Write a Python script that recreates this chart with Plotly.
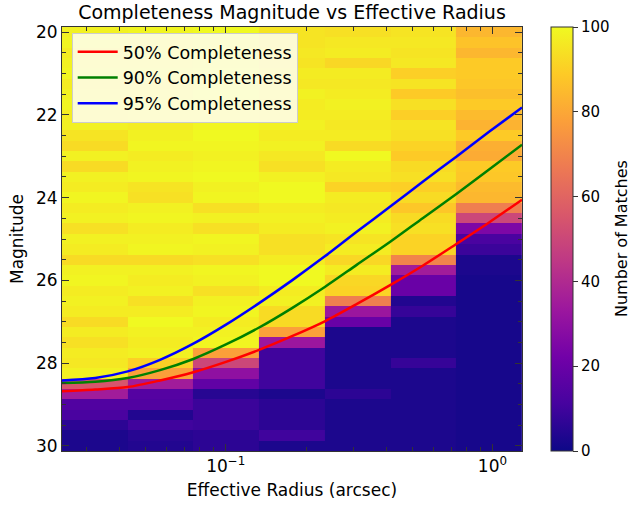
import plotly.graph_objects as go

# ---------------- data ----------------
# bin edges of effective radius (arcsec), 7 bins
radius_edges = [0.0243, 0.0429, 0.0756, 0.1334, 0.2352, 0.4150, 0.7320, 1.2910]

# magnitude bin centres (rows)
magnitudes = [20.0, 20.25, 20.5, 20.75, 21.0, 21.25, 21.5, 21.75, 22.0, 22.25,
              22.5, 22.75, 23.0, 23.25, 23.5, 23.75, 24.0, 24.25, 24.5, 24.75,
              25.0, 25.25, 25.5, 25.75, 26.0, 26.25, 26.5, 26.75, 27.0, 27.25,
              27.5, 27.75, 28.0, 28.25, 28.5, 28.75, 29.0, 29.25, 29.5, 29.75,
              30.0]

# number of matches per radius bin (one list per column, top to bottom)
col_0 = [98, 99, 97, 98, 99, 97, 98, 99, 97, 98,
         95, 93, 98, 93, 98, 97, 99, 97, 98, 94,
         98, 97, 93, 98, 99, 97, 98, 97, 93, 97,
         94, 97, 96, 98, 55, 35, 14, 12, 6, 3,
         3]
col_1 = [99, 98, 99, 98, 99, 97, 98, 99, 98, 97,
         98, 99, 97, 98, 99, 95, 94, 98, 99, 97,
         98, 99, 93, 98, 97, 98, 94, 97, 100, 98,
         97, 98, 90, 78, 35, 15, 14, 4, 10, 5,
         4]
col_2 = [100, 99, 100, 99, 100, 99, 100, 99, 98, 99,
         100, 99, 98, 99, 100, 98, 99, 94, 98, 94,
         99, 98, 94, 99, 98, 94, 98, 99, 97, 98,
         99, 78, 50, 30, 18, 5, 9, 9, 9, 6,
         6]
col_3 = [95, 95, 96, 95, 97, 96, 98, 97, 97, 98,
         97, 98, 96, 94, 98, 100, 100, 97, 98, 97,
         94, 94, 97, 100, 100, 97, 98, 93, 93, 78,
         33, 10, 10, 10, 10, 3, 6, 6, 6, 10,
         3]
col_4 = [94, 96, 97, 92, 97, 96, 97, 98, 97, 96,
         97, 93, 100, 97, 96, 91, 97, 96, 97, 98,
         95, 97, 92, 97, 92, 91, 68, 33, 20, 3,
         3, 3, 3, 3, 3, 6, 3, 3, 3, 3,
         3]
col_5 = [95, 96, 95, 96, 90, 95, 89, 94, 90, 95,
         94, 91, 89, 93, 94, 90, 93, 88, 93, 94,
         91, 91, 70, 35, 20, 20, 4, 8, 3, 3,
         3, 3, 8, 3, 3, 3, 3, 3, 3, 3,
         3]
col_6 = [84, 87, 84, 89, 89, 88, 86, 89, 85, 83,
         89, 82, 81, 89, 88, 85, 84, 68, 50, 25,
         12, 9, 3, 3, 2, 2, 2, 2, 2, 2,
         2, 2, 2, 2, 2, 2, 2, 2, 2, 2,
         2]

# completeness curves
curve_radius = [0.0243, 0.0324, 0.0429, 0.0567, 0.0756, 0.1002, 0.1334, 0.1772,
                0.2352, 0.3106, 0.4150, 0.5493, 0.7320, 0.9712, 1.2910]
mag_50 = [28.68, 28.64, 28.58, 28.42, 28.22, 27.97, 27.68, 27.35,
          26.99, 26.57, 26.11, 25.64, 25.12, 24.60, 24.05]
mag_90 = [28.48, 28.45, 28.36, 28.17, 27.90, 27.55, 27.14, 26.67,
          26.16, 25.62, 25.06, 24.49, 23.91, 23.32, 22.72]
mag_95 = [28.42, 28.36, 28.20, 27.92, 27.53, 27.07, 26.55, 26.00,
          25.42, 24.82, 24.21, 23.61, 23.01, 22.41, 21.82]

# ---------------- figure ----------------
columns = [col_0, col_1, col_2, col_3, col_4, col_5, col_6]
z = [[col[i] for col in columns] for i in range(len(magnitudes))]

FONT = "DejaVu Sans"
PLOT_W = 460

fig = go.Figure()
fig.add_trace(go.Heatmap(
    x=radius_edges, y=magnitudes, z=z,
    colorscale="Plasma", zmin=0, zmax=100,
    showscale=True, showlegend=False, hoverinfo="skip",
    colorbar=dict(
        x=(550.7 - 62) / PLOT_W, xanchor="left", xpad=0,
        y=0, yanchor="bottom", len=1, ypad=0,
        thickness=21.5, outlinewidth=1, outlinecolor="#333333",
        tickvals=[0, 20, 40, 60, 80, 100],
        ticks="outside", ticklen=5, tickwidth=1, tickcolor="#333333",
        tickfont=dict(family=FONT, size=15, color="black"),
    ),
))

for name, ys, color in [("50% Completeness", mag_50, "red"),
                        ("90% Completeness", mag_90, "green"),
                        ("95% Completeness", mag_95, "blue")]:
    fig.add_trace(go.Scatter(
        x=curve_radius, y=ys, mode="lines", name=name,
        line=dict(color=color, width=2.5, shape="spline", smoothing=0.8),
        hoverinfo="skip",
    ))

axis_common = dict(
    showline=True, linecolor="#333333", linewidth=1, mirror="allticks",
    ticks="inside", ticklen=7, tickwidth=1, tickcolor="#333333",
    showgrid=False, zeroline=False,
    tickfont=dict(family=FONT, size=17, color="black"),
)

fig.update_layout(
    width=633, height=508,
    margin=dict(l=62, r=111, t=27, b=52),
    paper_bgcolor="white", plot_bgcolor="white",
    font=dict(family=FONT, color="black"),
    title=dict(text="Completeness Magnitude vs Effective Radius",
               x=292 / 633, xanchor="center",
               y=1 - 12 / 508, yanchor="middle",
               font=dict(family=FONT, size=19, color="black")),
    xaxis=dict(
        type="log",
        range=[-1.614, 0.1108],
        tickvals=[0.1, 1],
        ticktext=["10<sup>\u22121</sup>", "10<sup>0</sup>"],
        minor=dict(ticks="inside", ticklen=4, tickwidth=1, tickcolor="#333333",
                   tickvals=[0.03, 0.04, 0.05, 0.06, 0.07, 0.08, 0.09,
                             0.2, 0.3, 0.4, 0.5, 0.6, 0.7, 0.8, 0.9],
                   showgrid=False),
        title=dict(text="Effective Radius (arcsec)", standoff=8,
                   font=dict(family=FONT, size=17, color="black")),
        **axis_common,
    ),
    yaxis=dict(
        range=[30.125, 19.875],
        tickvals=[20, 22, 24, 26, 28, 30],
        minor=dict(ticks="inside", ticklen=4, tickwidth=1, tickcolor="#333333",
                   dtick=0.5, showgrid=False),
        title=dict(text="Magnitude", standoff=8,
                   font=dict(family=FONT, size=17, color="black")),
        **axis_common,
    ),
    legend=dict(
        x=(71.7 - 62) / PLOT_W, xanchor="left",
        y=1 - (33 - 27) / 429, yanchor="top",
        bgcolor="rgba(255,255,255,0.8)", bordercolor="#cccccc", borderwidth=1,
        itemwidth=40,
        font=dict(family=FONT, size=17.5, color="black"),
    ),
    annotations=[dict(
        text="Number of Matches", textangle=-90,
        xref="paper", yref="paper",
        x=(621 - 62) / PLOT_W, y=0.5, xanchor="center", yanchor="middle",
        showarrow=False,
        font=dict(family=FONT, size=16, color="black"),
    )],
)

fig.write_html("out.html")
